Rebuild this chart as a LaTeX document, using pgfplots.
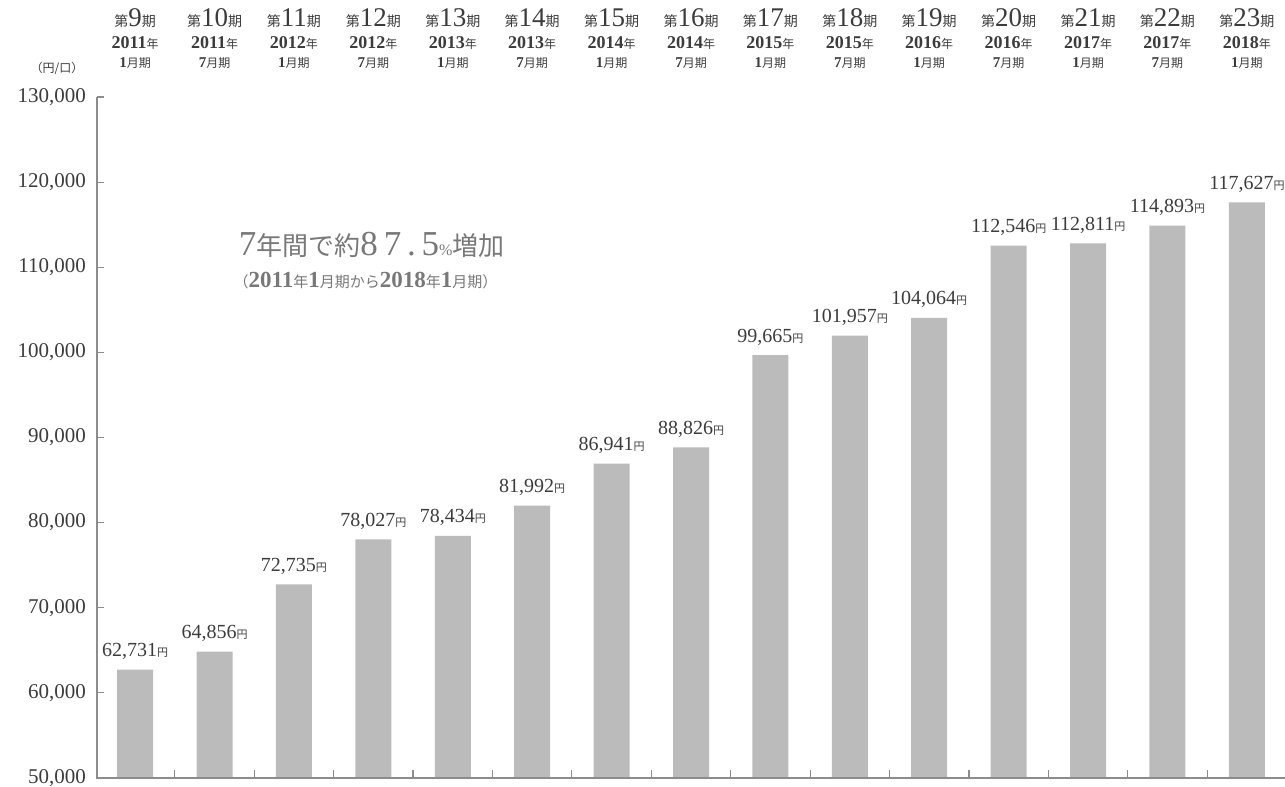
\documentclass[border=0pt]{standalone}
\usepackage{fontspec}
\setmainfont{Liberation Serif}
\newfontfamily\cjk{Noto Sans CJK JP}
\usepackage{pgfplots}
\usepackage{pgfplotstable}
\pgfplotsset{compat=1.18}
\definecolor{bargray}{RGB}{187,187,187}
\definecolor{txt}{RGB}{60,60,60}
\definecolor{axgray}{RGB}{140,140,140}
\definecolor{anngray}{RGB}{120,120,120}

\pgfplotstableread{
x y lab
0 62731 62,731
1 64856 64,856
2 72735 72,735
3 78027 78,027
4 78434 78,434
5 81992 81,992
6 86941 86,941
7 88826 88,826
8 99665 99,665
9 101957 101,957
10 104064 104,064
11 112546 112,546
12 112811 112,811
13 114893 114,893
14 117627 117,627
}\datatable

\newcommand{\toplab}[4]{%
  \node[anchor=base,yshift=35pt,text=txt,inner sep=0pt] at (axis cs:#1,130000)
    {{\cjk\fontsize{7}{7}\selectfont 第}{\fontsize{13.5}{12}\selectfont #2}{\cjk\fontsize{7}{7}\selectfont 期}};
  \node[anchor=base,yshift=24pt,text=txt,inner sep=0pt] at (axis cs:#1,130000)
    {{\fontsize{9}{9}\selectfont\bfseries #3}{\cjk\fontsize{6}{6}\selectfont 年}};
  \node[anchor=base,yshift=14.5pt,text=txt,inner sep=0pt] at (axis cs:#1,130000)
    {{\fontsize{7.5}{7}\selectfont\bfseries #4}{\cjk\fontsize{6}{6}\selectfont 月期}};
}
\newcommand{\xtk}[1]{\draw[axgray, line width=0.6pt] (axis cs:#1,50000) -- ++(0pt,4pt);}

\begin{document}
\begin{tikzpicture}
\begin{axis}[
  scale only axis,
  width=594pt, height=340.5pt,
  xmin=-0.48, xmax=14.48,
  ymin=50000, ymax=130000,
  ytick={50000,60000,...,130000},
  xtick=\empty,
  ytick pos=left,
  axis line style={draw=none},
  tick style={axgray, line width=0.6pt},
  tick align=inside,
  major tick length=3.5pt,
  scaled y ticks=false,
  yticklabel style={font=\fontsize{10.5}{10}\selectfont, text=txt, xshift=-2pt},
  /pgf/number format/assume math mode=true,
  /pgf/number format/.cd, fixed, 1000 sep={,}, /pgfplots/.cd,
  clip mode=individual,
  ybar, bar width=18pt,
  nodes near coords={\pgfplotspointmeta{\cjk\fontsize{5.5}{5}\selectfont 円}},
  every node near coord/.style={anchor=base, yshift=6.5pt, inner sep=0pt, text=txt, font=\fontsize{10}{10}\selectfont},
  point meta=explicit symbolic,
]
\addplot[fill=bargray, draw=none, bar shift=0pt] table[x=x, y=y, meta=lab] {\datatable};

\draw[axgray, line width=0.8pt] (rel axis cs:0,1) -- (rel axis cs:0,0) -- (rel axis cs:1,0);
\xtk{0.5}\xtk{1.5}\xtk{2.5}\xtk{3.5}\xtk{4.5}\xtk{5.5}\xtk{6.5}
\xtk{7.5}\xtk{8.5}\xtk{9.5}\xtk{10.5}\xtk{11.5}\xtk{12.5}\xtk{13.5}

\coordinate (SW) at (rel axis cs:0,0);
\coordinate (NE) at (rel axis cs:1,1);

\toplab{0}{9}{2011}{1}
\toplab{1}{10}{2011}{7}
\toplab{2}{11}{2012}{1}
\toplab{3}{12}{2012}{7}
\toplab{4}{13}{2013}{1}
\toplab{5}{14}{2013}{7}
\toplab{6}{15}{2014}{1}
\toplab{7}{16}{2014}{7}
\toplab{8}{17}{2015}{1}
\toplab{9}{18}{2015}{7}
\toplab{10}{19}{2016}{1}
\toplab{11}{20}{2016}{7}
\toplab{12}{21}{2017}{1}
\toplab{13}{22}{2017}{7}
\toplab{14}{23}{2018}{1}

\node[anchor=base, text=anngray, inner sep=0pt] at (axis cs:2.98,111400)
  {{\fontsize{17.5}{17}\selectfont 7}{\cjk\fontsize{13}{12}\selectfont 年間で約}{\fontsize{17.5}{17}\selectfont 8\,7\,.\,5}{\fontsize{8}{8}\selectfont\%}{\cjk\fontsize{13}{12}\selectfont 増加}};
\node[anchor=base, text=anngray, inner sep=0pt] at (axis cs:2.9,107600)
  {{\cjk\fontsize{7.5}{7}\selectfont（}{\fontsize{11.5}{11}\selectfont\bfseries 2011}{\cjk\fontsize{7.5}{7}\selectfont 年}{\fontsize{11.5}{11}\selectfont\bfseries 1}{\cjk\fontsize{7.5}{7}\selectfont 月期から}{\fontsize{11.5}{11}\selectfont\bfseries 2018}{\cjk\fontsize{7.5}{7}\selectfont 年}{\fontsize{11.5}{11}\selectfont\bfseries 1}{\cjk\fontsize{7.5}{7}\selectfont 月期）}};
\end{axis}
\node[anchor=base, text=txt, inner sep=0pt] at ([xshift=-20pt,yshift=12pt]SW |- NE)
  {\cjk\fontsize{6}{6}\selectfont （円/口）};
\pgfresetboundingbox
\path ([xshift=-48.5pt,yshift=-4.5pt]SW) rectangle ([yshift=48.5pt]NE);
\end{tikzpicture}
\end{document}
